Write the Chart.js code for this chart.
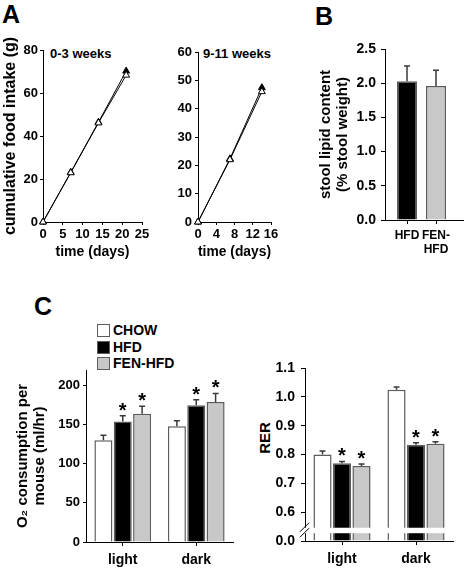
<!DOCTYPE html>
<html>
<head>
<meta charset="utf-8">
<script src="https://cdn.jsdelivr.net/npm/chart.js@4.4.0/dist/chart.umd.min.js"></script>
<style>
html,body{margin:0;padding:0;background:#fff;width:466px;height:568px;overflow:hidden;position:relative;font-family:"Liberation Sans",Arial,Helvetica,sans-serif;}
canvas{position:absolute;}
.txt{position:absolute;font-weight:bold;white-space:nowrap;line-height:1;color:#000;}
.leg{position:absolute;left:97px;font-size:14px;font-weight:bold;line-height:13px;height:13px;white-space:nowrap;}
.leg span.sw{display:inline-block;box-sizing:border-box;width:13px;height:13px;border:1.5px solid #5c5c5c;vertical-align:top;margin-right:3px;}
</style>
</head>
<body>
<div class="txt" style="left:2px;top:2px;font-size:25px">A</div>
<div class="txt" style="left:315px;top:4px;font-size:25px">B</div>
<div class="txt" style="left:34px;top:294px;font-size:25px">C</div>
<div class="txt" id="tA1" style="left:50px;top:47px;font-size:13px"></div>
<div class="txt" id="tA2" style="left:203px;top:47px;font-size:13px"></div>
<div class="txt" id="rerTitle" style="left:264px;top:438px;font-size:15px;transform:translate(-50%,-50%) rotate(-90deg);"></div>
<div id="legendC"></div>

<canvas id="a1" width="155" height="262" style="left:0px;top:0px"></canvas>
<canvas id="a2" width="135" height="262" style="left:150px;top:0px"></canvas>
<canvas id="b1" width="166" height="268" style="left:300px;top:0px"></canvas>
<canvas id="c1" width="240" height="268" style="left:0px;top:300px"></canvas>
<canvas id="c2" width="226" height="268" style="left:240px;top:300px"></canvas>

<script>
// ---------------- DATA ----------------
// Panel A: cumulative food intake (g)
const panelATitles = ['0-3 weeks', '9-11 weeks'];
const daysEarly = [0, 7, 14, 21];
const intakeEarlyHFD = [0, 23.1, 46.4, 70.2];
const intakeEarlyFEN = [0, 22.9, 46.1, 68.3];
const daysLate = [0, 7, 14];
const intakeLateHFD = [0, 22.3, 47.4];
const intakeLateFEN = [0, 22.0, 46.0];

// Panel B: stool lipid content
const stoolGroups = ['HFD', 'FEN-HFD'];
const stoolTickLabels = ['HFD', ['FEN-', 'HFD']];
const stoolLipid = [2.03, 1.96];
const stoolLipidErr = [0.22, 0.23];

// Panel C
const periods = ['light', 'dark'];
const groupNames = ['CHOW', 'HFD', 'FEN-HFD'];
const significant = [false, true, true];
const o2CHOW = [130, 148];
const o2HFD = [154, 175];
const o2FEN = [164, 179];
const o2ErrCHOW = [6.5, 7];
const o2ErrHFD = [7.5, 7];
const o2ErrFEN = [9.5, 11];
const o2TickValues = [0, 50, 100, 150, 200];

const rerCHOW = [0.800, 1.025];
const rerHFD = [0.770, 0.834];
const rerFEN = [0.760, 0.837];
const rerErrCHOW = [0.012, 0.009];
const rerErrHFD = [0.006, 0.007];
const rerErrFEN = [0.007, 0.007];
// the broken axis: "0.0" is drawn at the position of 0.5
const rerTickValues = [0.5, 0.6, 0.7, 0.8, 0.9, 1.0, 1.1];
const rerTickLabels = ['0.0', '0.6', '0.7', '0.8', '0.9', '1.0', '1.1'];

// ---------------- STYLE ----------------
const FONT = '"Liberation Sans", Arial, Helvetica, sans-serif';
const BLACK = '#000';
const BAR_BORDER = '#5c5c5c';
const groupColors = ['#ffffff', '#000000', '#c8c8c8'];
const stoolColors = ['#000000', '#c8c8c8'];
const f = (size) => ({ family: FONT, size: size, weight: 'bold' });

document.getElementById('tA1').textContent = panelATitles[0];
document.getElementById('tA2').textContent = panelATitles[1];
document.getElementById('rerTitle').textContent = 'RER';

// HTML legend for panel C
(function () {
  const host = document.getElementById('legendC');
  groupNames.forEach((name, i) => {
    const row = document.createElement('div');
    row.className = 'leg';
    row.style.top = (324 + i * 16.7) + 'px';
    const sw = document.createElement('span');
    sw.className = 'sw';
    sw.style.background = groupColors[i];
    row.appendChild(sw);
    row.appendChild(document.createTextNode(name));
    host.appendChild(row);
  });
})();

function axis(tickLen, tickPad, size, extra) {
  const base = {
    grid: { drawOnChartArea: false, drawTicks: true, tickLength: tickLen, color: BLACK, offset: false },
    border: { display: true, color: BLACK, width: 1 },
    ticks: { font: f(size), color: BLACK, padding: tickPad, maxRotation: 0, autoSkip: false }
  };
  const out = Object.assign({}, base, extra || {});
  if (extra && extra.ticks) out.ticks = Object.assign({}, base.ticks, extra.ticks);
  if (extra && extra.grid) out.grid = Object.assign({}, base.grid, extra.grid);
  return out;
}
function baseOptions(padding) {
  return {
    responsive: false, animation: false, events: [],
    layout: { padding: padding },
    plugins: { legend: { display: false }, tooltip: { enabled: false } }
  };
}

// error bars + significance stars
const errorBarPlugin = {
  id: 'errbars',
  afterDatasetsDraw(chart) {
    const ctx = chart.ctx;
    const yScale = chart.scales.y;
    chart.data.datasets.forEach((ds, i) => {
      if (!ds.errors) return;
      const meta = chart.getDatasetMeta(i);
      meta.data.forEach((bar, j) => {
        const raw = ds.data[j];
        const val = (typeof raw === 'object') ? raw.y : raw;
        const top = yScale.getPixelForValue(val + ds.errors[j]);
        ctx.save();
        ctx.strokeStyle = '#3a3a3a';
        ctx.lineWidth = 1.5;
        ctx.beginPath();
        ctx.moveTo(bar.x, bar.y);
        ctx.lineTo(bar.x, top);
        ctx.moveTo(bar.x - 3, top);
        ctx.lineTo(bar.x + 3, top);
        ctx.stroke();
        if (ds.stars && ds.stars[j]) {
          ctx.fillStyle = BLACK;
          ctx.font = 'bold 20px ' + FONT;
          ctx.textAlign = 'center';
          ctx.textBaseline = 'alphabetic';
          ctx.fillText('*', bar.x, top + 1);
        }
        ctx.restore();
      });
    });
  }
};

// axis break for the RER panel
const breakPlugin = {
  id: 'axisBreak',
  afterDatasetsDraw(chart, args, opts) {
    const ctx = chart.ctx, area = chart.chartArea, y = chart.scales.y;
    const yTop = y.getPixelForValue(opts.high);
    const yBot = y.getPixelForValue(opts.low);
    ctx.save();
    ctx.fillStyle = '#fff';
    ctx.fillRect(area.left - 1, yTop, area.right - area.left + 1, yBot - yTop);
    ctx.strokeStyle = BLACK;
    ctx.lineWidth = 1;
    [yTop, yBot].forEach(py => {
      ctx.beginPath();
      ctx.moveTo(area.left - 5, py + 4);
      ctx.lineTo(area.left + 4, py - 5);
      ctx.stroke();
    });
    ctx.restore();
  }
};

function lineSeries(label, xs, ys, filled) {
  return {
    label: label,
    data: xs.map((x, i) => ({ x: x, y: ys[i] })),
    borderColor: BLACK, borderWidth: 1, tension: 0,
    pointStyle: 'triangle', pointRadius: 4,
    pointBackgroundColor: filled ? BLACK : '#fff',
    pointBorderColor: BLACK, pointBorderWidth: 1,
    clip: false
  };
}

// ---------------- PANEL A1 ----------------
(function () {
  const o = baseOptions({ top: 50, right: 13, left: 0, bottom: 0 });
  o.scales = {
    x: axis(3, 2, 13, {
      type: 'linear', min: 0, max: 25,
      ticks: { stepSize: 5 },
      afterFit(s) { s.height = 40; },
      title: { display: true, text: 'time (days)', font: f(14), color: BLACK, padding: { top: 0, bottom: 1 } }
    }),
    y: axis(3, 2, 13, {
      min: 0, max: 80,
      ticks: { stepSize: 20 },
      afterFit(s) { s.width = 43; },
      title: { display: true, text: 'cumulative food intake (g)', font: f(16), color: BLACK, padding: { top: 1, bottom: 0 } }
    })
  };
  new Chart(document.getElementById('a1'), {
    type: 'line',
    data: { datasets: [
      lineSeries('FEN-HFD', daysEarly, intakeEarlyFEN, false),
      lineSeries('HFD', daysEarly, intakeEarlyHFD, true)
    ] },
    options: o
  });
})();

// ---------------- PANEL A2 ----------------
(function () {
  const o = baseOptions({ top: 52, right: 14, left: 0, bottom: 0 });
  o.scales = {
    x: axis(3, 2, 13, {
      type: 'linear', min: 0, max: 16,
      ticks: { stepSize: 4 },
      afterFit(s) { s.height = 40; },
      title: { display: true, text: 'time (days)', font: f(14), color: BLACK, padding: { top: 0, bottom: 1 } }
    }),
    y: axis(3, 3, 13, {
      min: 0, max: 60,
      ticks: { stepSize: 10 },
      afterFit(s) { s.width = 48; }
    })
  };
  new Chart(document.getElementById('a2'), {
    type: 'line',
    data: { datasets: [
      lineSeries('FEN-HFD', daysLate, intakeLateFEN, false),
      lineSeries('HFD', daysLate, intakeLateHFD, true)
    ] },
    options: o
  });
})();

// ---------------- PANEL B ----------------
(function () {
  const o = baseOptions({ top: 49, right: 3, left: 0, bottom: 0 });
  o.scales = {
    x: axis(4, 4, 12, {
      type: 'linear', min: 0.241, max: 2.931, offset: false,
      afterBuildTicks(s) { s.ticks = stoolGroups.map((g, i) => ({ value: i + 1 })); },
      ticks: { callback: (v, i) => stoolTickLabels[i] },
      afterFit(s) { s.height = 48; }
    }),
    y: axis(4, 5, 14, {
      min: 0, max: 2.5, beginAtZero: false,
      ticks: { stepSize: 0.5, callback: (v) => Number(v).toFixed(1) },
      afterFit(s) { s.width = 85; },
      title: { display: true, text: ['stool lipid content', '(% stool weight)'], font: { family: FONT, size: 15, weight: 'bold', lineHeight: 1.1 }, color: BLACK, padding: { top: 18, bottom: 0 } }
    })
  };
  new Chart(document.getElementById('b1'), {
    type: 'bar',
    data: { datasets: [{
      label: 'stool lipid',
      data: stoolGroups.map((g, i) => ({ x: i + 1, y: stoolLipid[i] })),
      errors: stoolLipidErr,
      backgroundColor: stoolColors,
      borderColor: BAR_BORDER, borderWidth: 1.5,
      categoryPercentage: 1, barPercentage: 0.69
    }] },
    options: o,
    plugins: [errorBarPlugin]
  });
})();

// ---------------- PANEL C left: O2 ----------------
(function () {
  const o = baseOptions({ top: 70, right: 7, left: 0, bottom: 0 });
  o.scales = {
    x: axis(4, 6, 14, {
      offset: true,
      afterFit(s) { s.height = 26; }
    }),
    y: axis(3, 3, 13, {
      min: 0, max: 220,
      afterBuildTicks(s) { s.ticks = o2TickValues.map(v => ({ value: v })); },
      afterFit(s) { s.width = 86; },
      title: { display: true, text: ['O\u2082 consumption per', 'mouse (ml/hr)'], font: { family: FONT, size: 15, weight: 'bold', lineHeight: 1.15 }, color: BLACK, padding: { top: 14, bottom: 0 } }
    })
  };
  const vals = [o2CHOW, o2HFD, o2FEN];
  const errs = [o2ErrCHOW, o2ErrHFD, o2ErrFEN];
  new Chart(document.getElementById('c1'), {
    type: 'bar',
    data: {
      labels: periods,
      datasets: groupNames.map((g, k) => ({
        label: g, data: vals[k], errors: errs[k],
        stars: periods.map(() => significant[k]),
        backgroundColor: groupColors[k], borderColor: BAR_BORDER, borderWidth: 1.5,
        categoryPercentage: 0.79, barPercentage: 0.93
      }))
    },
    options: o,
    plugins: [errorBarPlugin]
  });
})();

// ---------------- PANEL C right: RER ----------------
(function () {
  const o = baseOptions({ top: 68, right: 13, left: 0, bottom: 0 });
  o.plugins.axisBreak = { low: 0.527, high: 0.546 };
  o.scales = {
    x: axis(4, 6, 14, {
      offset: true,
      afterFit(s) { s.height = 27; }
    }),
    y: axis(4, 6, 14, {
      min: rerTickValues[0], max: rerTickValues[rerTickValues.length - 1], beginAtZero: false,
      afterBuildTicks(s) { s.ticks = rerTickValues.map(v => ({ value: v })); },
      ticks: { callback: (v, i) => rerTickLabels[i] },
      afterFit(s) { s.width = 65; }
    })
  };
  const vals = [rerCHOW, rerHFD, rerFEN];
  const errs = [rerErrCHOW, rerErrHFD, rerErrFEN];
  new Chart(document.getElementById('c2'), {
    type: 'bar',
    data: {
      labels: periods,
      datasets: groupNames.map((g, k) => ({
        label: g, data: vals[k], errors: errs[k],
        stars: periods.map(() => significant[k]),
        base: rerTickValues[0],
        backgroundColor: groupColors[k], borderColor: BAR_BORDER, borderWidth: 1.5,
        categoryPercentage: 0.79, barPercentage: 0.93
      }))
    },
    options: o,
    plugins: [errorBarPlugin, breakPlugin]
  });
})();
</script>
</body>
</html>
